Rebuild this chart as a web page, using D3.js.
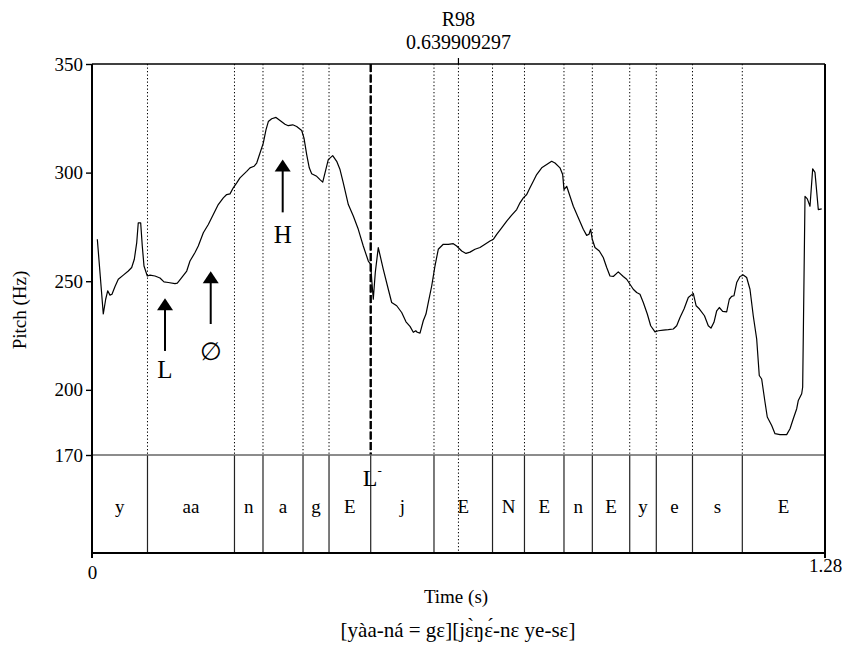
<!DOCTYPE html>
<html><head><meta charset="utf-8">
<script src="https://cdn.jsdelivr.net/npm/d3@7"></script>
<style>body{margin:0;background:#fff}svg{display:block}text{font-family:"Liberation Serif","Times New Roman","DejaVu Serif",serif;fill:#000}</style>
</head><body><svg id="c" width="844" height="645"></svg>
<script>
// ---- data ----
const times = [0.0093,0.0197,0.0239,0.0274,0.0314,0.0349,0.0402,0.0459,0.0547,0.0634,0.0693,0.0739,0.0781,0.0808,0.0850,0.0878,0.0908,0.0966,0.1013,0.1100,0.1187,0.1257,0.1332,0.1449,0.1490,0.1566,0.1654,0.1711,0.1799,0.1856,0.1944,0.2031,0.2118,0.2205,0.2293,0.2352,0.2410,0.2467,0.2527,0.2584,0.2642,0.2701,0.2759,0.2829,0.2876,0.2934,0.2991,0.3038,0.3079,0.3138,0.3213,0.3283,0.3370,0.3428,0.3505,0.3574,0.3662,0.3702,0.3749,0.3794,0.3836,0.3924,0.3981,0.4029,0.4069,0.4126,0.4203,0.4273,0.4331,0.4388,0.4476,0.4563,0.4650,0.4737,0.4825,0.4867,0.4884,0.4912,0.4947,0.4999,0.5087,0.5174,0.5233,0.5321,0.5408,0.5483,0.5553,0.5611,0.5653,0.5680,0.5728,0.5785,0.5832,0.5872,0.5932,0.5989,0.6047,0.6134,0.6222,0.6309,0.6368,0.6456,0.6531,0.6601,0.6688,0.6775,0.6863,0.6950,0.7008,0.7067,0.7154,0.7242,0.7329,0.7416,0.7474,0.7532,0.7591,0.7648,0.7706,0.7765,0.7853,0.7940,0.8027,0.8085,0.8172,0.8219,0.8242,0.8289,0.8347,0.8405,0.8492,0.8579,0.8638,0.8679,0.8708,0.8736,0.8783,0.8859,0.8928,0.8988,0.9045,0.9103,0.9190,0.9277,0.9337,0.9394,0.9452,0.9511,0.9569,0.9627,0.9697,0.9756,0.9831,0.9889,0.9976,1.0063,1.0151,1.0210,1.0268,1.0338,1.0413,1.0500,1.0550,1.0608,1.0695,1.0762,1.0809,1.0861,1.0909,1.0954,1.1013,1.1083,1.1129,1.1170,1.1210,1.1258,1.1315,1.1373,1.1432,1.1490,1.1547,1.1607,1.1652,1.1694,1.1752,1.1792,1.1869,1.1927,1.2014,1.2131,1.2189,1.2246,1.2306,1.2334,1.2393,1.2410,1.2451,1.2491,1.2538,1.2585,1.2625,1.2683,1.2742];
const pitch = [269.3,234.9,241.7,245.6,243.6,244.0,247.6,250.9,252.8,254.7,256.3,260.1,267.8,276.9,276.9,266.2,257.0,252.4,252.8,252.4,251.5,249.7,249.4,248.9,249.1,251.7,254.7,259.3,263.2,266.2,272.3,276.1,280.7,285.3,288.4,289.9,290.2,293.0,295.3,297.6,299.1,300.6,302.2,302.9,304.4,309.0,313.6,319.7,323.5,324.8,325.4,324.0,322.3,321.6,322.0,321.2,319.4,315.9,308.3,302.2,299.5,298.3,296.8,295.6,299.9,306.0,307.8,305.2,301.4,295.3,285.3,280.0,273.9,266.2,259.3,257.8,250.9,241.7,254.0,265.5,255.5,246.3,240.2,238.7,235.6,231.3,229.2,226.5,227.2,226.5,226.1,231.8,234.9,240.2,247.8,257.0,264.7,267.0,267.0,267.3,266.2,263.9,262.8,263.4,264.7,265.5,267.0,268.5,269.3,271.6,274.6,277.7,280.4,283.0,286.1,288.4,289.9,293.0,296.0,299.1,302.2,303.7,305.2,304.4,302.2,299.1,292.2,293.7,289.1,284.5,279.2,273.9,271.1,271.6,273.9,269.3,265.5,263.9,260.9,256.3,252.4,252.2,254.3,252.2,250.9,248.6,246.3,244.8,244.0,240.2,234.9,229.5,226.7,227.2,227.5,227.7,228.0,229.5,233.3,237.2,242.5,244.4,238.7,237.2,234.1,229.5,228.4,231.1,236.4,237.9,236.1,235.9,241.7,243.0,243.3,249.4,252.2,252.9,251.7,246.3,234.1,223.4,206.6,205.0,194.4,187.5,183.6,179.8,179.4,179.4,182.1,186.7,191.3,195.1,198.2,201.2,289.1,287.9,284.5,301.7,300.1,283.0,283.3];
const boundaries = [0.0969,0.2488,0.2986,0.3685,0.4139,0.4867,0.5972,0.6994,0.7552,0.8242,0.8737,0.9390,0.9854,1.0486,1.1356];
const segLabels = ["y","aa","n","a","g","E","j","E","N","E","n","E","y","e","s","E"];
const yTicks = [170,200,250,300,350];
const xTicks = [0,1.28];
const cursorName = "R98";
const cursorTime = 0.639909297;
const boundaryTime = 0.4867; // dashed L- boundary
const arrows = [ // label, time, tip Hz, tail Hz, label Hz
  {label:"L", t:0.1275, tip:242.2, tail:217.9, lab:209.6},
  {label:"\u2205", t:0.2073, tip:254.6, tail:230.3, lab:217.9},
  {label:"H", t:0.3330, tip:306.0, tail:281.7, lab:271.6}
];
const caption = "[yàa-ná = gɛ][jɛ̀ŋɛ́-nɛ ye-sɛ]";

// ---- layout ----
const L=92, R=825, T=64, PB=455, TB=553;
const svg = d3.select("#c");
const x = d3.scaleLinear().domain([0,1.28]).range([L,R]);
const y = d3.scaleLinear().domain([170,350]).range([PB,T]);

// dotted boundary lines (pitch area + cursor)
svg.append("g").selectAll("line").data(boundaries.concat([cursorTime])).join("line")
  .attr("x1",d=>x(d)).attr("x2",d=>x(d)).attr("y1",T).attr("y2",PB)
  .attr("stroke","#000").attr("stroke-width",1).attr("stroke-dasharray","1.3,2.2");
// cursor dotted in tier
svg.append("line").attr("x1",x(cursorTime)).attr("x2",x(cursorTime)).attr("y1",PB).attr("y2",TB)
  .attr("stroke","#000").attr("stroke-width",1).attr("stroke-dasharray","1.3,2.2");
// dashed boundary
svg.append("line").attr("x1",x(boundaryTime)).attr("x2",x(boundaryTime)).attr("y1",T).attr("y2",PB)
  .attr("stroke","#000").attr("stroke-width",2.4).attr("stroke-dasharray","8,2.5");
// tier boundaries
svg.append("g").selectAll("line").data(boundaries).join("line")
  .attr("x1",d=>x(d)).attr("x2",d=>x(d)).attr("y1",PB).attr("y2",TB)
  .attr("stroke","#222").attr("stroke-width",1.2);
// tier labels
const edges=[0].concat(boundaries,[1.28]);
svg.append("g").selectAll("text").data(segLabels).join("text")
  .attr("x",(d,i)=>(x(edges[i])+x(edges[i+1]))/2).attr("y",513)
  .attr("text-anchor","middle").attr("font-size",19).text(d=>d);
// L- label
const lm = svg.append("text").attr("x",x(boundaryTime)-8).attr("y",486).attr("font-size",24);
lm.append("tspan").text("L");
lm.append("tspan").attr("font-size",13).attr("dy",-11).text("-");

// pitch curve
const line = d3.line().x(d=>x(d[0])).y(d=>y(d[1]));
svg.append("path").datum(times.map((t,i)=>[t,pitch[i]])).attr("d",line)
  .attr("fill","none").attr("stroke","#000").attr("stroke-width",1.2).attr("stroke-linejoin","round");

// frame
svg.append("line").attr("x1",L).attr("x2",R).attr("y1",T).attr("y2",T).attr("stroke","#000").attr("stroke-width",1.6);
svg.append("line").attr("x1",L).attr("x2",R).attr("y1",PB).attr("y2",PB).attr("stroke","#666").attr("stroke-width",1.4);
svg.append("line").attr("x1",L).attr("x2",R).attr("y1",TB).attr("y2",TB).attr("stroke","#000").attr("stroke-width",2);
svg.append("line").attr("x1",L).attr("x2",L).attr("y1",T).attr("y2",TB+5).attr("stroke","#000").attr("stroke-width",2);
svg.append("line").attr("x1",R).attr("x2",R).attr("y1",T).attr("y2",TB+5).attr("stroke","#000").attr("stroke-width",2);
// cursor tick above top
svg.append("line").attr("x1",x(cursorTime)).attr("x2",x(cursorTime)).attr("y1",T-6).attr("y2",T).attr("stroke","#000").attr("stroke-width",1.2);

// y axis
const ya = svg.append("g").attr("transform",`translate(${L},0)`)
  .call(d3.axisLeft(y).tickValues(yTicks).tickSize(6).tickPadding(3).tickFormat(d3.format("d")));
ya.select(".domain").remove();
ya.selectAll("line").attr("stroke","#000").attr("stroke-width",1.4);
ya.selectAll("text").attr("font-size",19).attr("fill","#000");

// x axis labels
const xa = svg.append("g").attr("transform",`translate(0,${TB})`)
  .call(d3.axisBottom(x).tickValues(xTicks).tickSize(0).tickPadding(13).tickFormat(d=>d===0?"0":"1.28"));
xa.select(".domain").remove();
xa.selectAll("text").attr("font-size",19).attr("fill","#000");
xa.selectAll(".tick").filter(d=>d!==0).select("text").attr("dy","0.3em");

// titles
svg.append("text").attr("x",456).attr("y",603).attr("text-anchor","middle").attr("font-size",19).text("Time (s)");
svg.append("text").attr("transform","translate(26,310) rotate(-90)").attr("text-anchor","middle").attr("font-size",19).text("Pitch (Hz)");
svg.append("text").attr("x",458).attr("y",637).attr("text-anchor","middle").attr("font-size",21).text(caption);
svg.append("text").attr("x",x(cursorTime)).attr("y",26).attr("text-anchor","middle").attr("font-size",20).text(cursorName);
svg.append("text").attr("x",x(cursorTime)).attr("y",49).attr("text-anchor","middle").attr("font-size",20).text(String(cursorTime));

// arrows
const ag = svg.append("g").selectAll("g").data(arrows).join("g");
ag.append("line").attr("x1",d=>x(d.t)).attr("x2",d=>x(d.t)).attr("y1",d=>y(d.tip)+8).attr("y2",d=>y(d.tail))
  .attr("stroke","#000").attr("stroke-width",2);
ag.append("path").attr("d",d=>{const cx=x(d.t),ty=y(d.tip);return `M${cx},${ty}L${cx-8},${ty+12}L${cx+8},${ty+12}Z`;}).attr("fill","#000");
ag.append("text").attr("x",d=>x(d.t)).attr("y",d=>y(d.lab)).attr("dy","0.35em").attr("text-anchor","middle")
  .attr("font-size",25).text(d=>d.label);
</script></body></html>
